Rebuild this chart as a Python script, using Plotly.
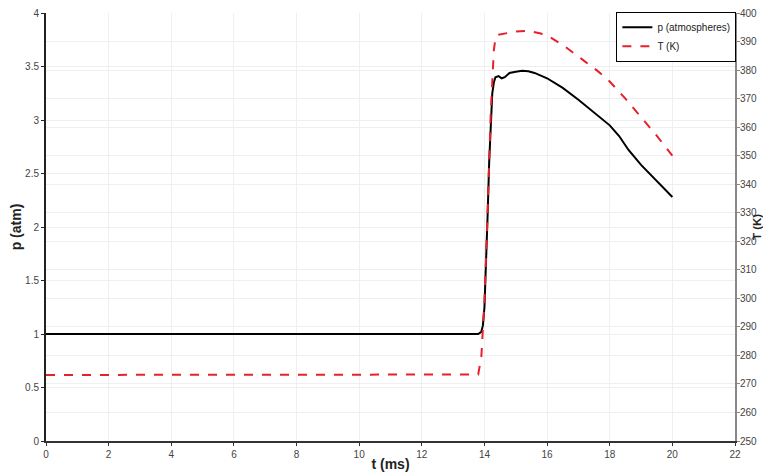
import plotly.graph_objects as go

t_p = [0, 2, 4, 6, 8, 10, 12, 13.5, 13.8, 13.9, 13.95, 14.0, 14.05, 14.1, 14.15, 14.2, 14.25, 14.3, 14.35, 14.45,
       14.55, 14.65, 14.8, 15.0, 15.2, 15.4, 15.6, 16.0, 16.5, 17.0, 17.5, 18.0, 18.3, 18.6, 19.0, 19.5, 20.0]
p_atm = [1.0, 1.0, 1.0, 1.0, 1.0, 1.0, 1.0, 1.0, 1.0, 1.02, 1.08, 1.25, 1.6, 2.1, 2.6, 3.0, 3.25, 3.35, 3.40, 3.41,
         3.39, 3.40, 3.44, 3.45, 3.46, 3.455, 3.44, 3.39, 3.30, 3.19, 3.07, 2.95, 2.85, 2.72, 2.58, 2.43, 2.28]

t_T = [0, 2, 4, 6, 8, 10, 12, 13.5, 13.8, 13.9, 14.0, 14.1, 14.2, 14.3, 14.35, 14.4, 14.65, 15.0, 15.4, 15.8,
       16.1, 16.6, 17.15, 17.6, 18.0, 18.5, 19.0, 19.5, 20.0]
T_K = [273.15, 273.15, 273.15, 273.15, 273.15, 273.15, 273.15, 273.15, 273.3, 279.5, 299, 330, 365, 387, 391, 392.3,
       392.9, 393.5, 393.8, 392.8, 391.5, 388.0, 383.5, 379.8, 376.0, 370.0, 363.5, 357.0, 350.0]

x_ticks = list(range(0, 23, 2))
p_ticks = [0, 0.5, 1, 1.5, 2, 2.5, 3, 3.5, 4]
T_ticks = list(range(250, 401, 10))

font_family = "Liberation Sans, Arial, sans-serif"
tick_font = dict(family=font_family, size=10, color="#444444")
title_font = dict(family=font_family, size=14, color="#222222")
grid_col = "#efefef"

fig = go.Figure()
fig.add_trace(go.Scatter(x=t_p, y=p_atm, mode="lines", name="p (atmospheres)",
                         line=dict(color="black", width=2)))
fig.add_trace(go.Scatter(x=t_T, y=T_K, mode="lines", name="T (K)", yaxis="y2",
                         line=dict(color="#e8202a", width=2, dash="dash")))

# page body adds an 8px offset, so the figure is sized 763x464
fig.update_layout(
    width=763, height=464,
    margin=dict(l=37.5, r=36, t=5, b=31, autoexpand=False),
    paper_bgcolor="white", plot_bgcolor="white",
    showlegend=True,
    legend=dict(x=1.002, y=1.003, xanchor="right", yanchor="top",
                bordercolor="black", borderwidth=1, bgcolor="white",
                font=dict(family=font_family, size=10, color="#222222"),
                tracegroupgap=0, itemwidth=30),
    xaxis=dict(range=[0, 22], tickvals=x_ticks, showgrid=True, gridcolor=grid_col,
               zeroline=False, showline=True, linecolor="#333333", linewidth=2,
               ticks="outside", ticklen=3, tickcolor="#333333", tickfont=tick_font,
               automargin=False, ticklabeloverflow="allow",
               title=dict(text="<b>t (ms)</b>", font=title_font, standoff=3)),
    yaxis=dict(range=[0, 4], tickvals=p_ticks, showgrid=True, gridcolor=grid_col,
               zeroline=False, showline=True, linecolor="#222222", linewidth=2,
               ticks="outside", ticklen=3, tickcolor="#222222", tickfont=tick_font,
               automargin=False, ticklabeloverflow="allow",
               title=dict(text="<b>p (atm)</b>", font=title_font, standoff=2)),
    yaxis2=dict(range=[250, 400], tickvals=T_ticks, overlaying="y", side="right",
                showgrid=True, gridcolor=grid_col, zeroline=False,
                showline=True, linecolor="#888888", linewidth=2,
                ticks="outside", ticklen=3, tickcolor="#888888", tickfont=tick_font,
                ticklabelstandoff=-2,
                automargin=False, ticklabeloverflow="allow"),
    annotations=[dict(text="<b>T (K)</b>", xref="paper", yref="paper", x=1.032, y=0.5,
                      xanchor="center", yanchor="middle", textangle=-90, showarrow=False,
                      font=dict(family=font_family, size=11.5, color="#222222"))],
)

fig.write_html("out.html")
